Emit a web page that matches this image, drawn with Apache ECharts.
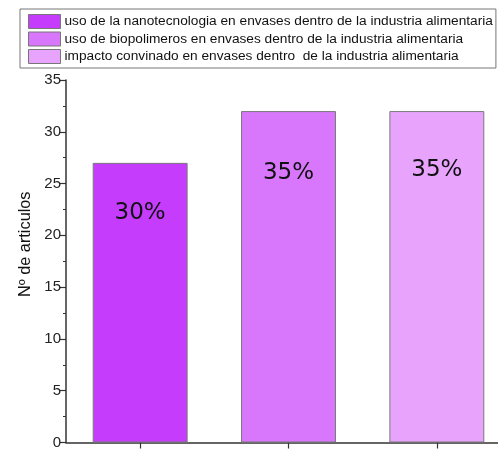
<!DOCTYPE html>
<html>
<head>
<meta charset="utf-8">
<script src="https://cdn.jsdelivr.net/npm/echarts@6/dist/echarts.min.js"></script>
<style>
  html, body { margin: 0; padding: 0; background: #fff; overflow: hidden; }
  /* the plot runs past the right edge of the window, so the canvas is a bit wider */
  #chart { width: 511px; height: 450px; }
</style>
</head>
<body>
<div id="chart"></div>
<script>
// Article counts per research topic, with the share each represents
const seriesNames = [
  'uso de la nanotecnologia en envases dentro de la industria alimentaria',
  'uso de biopolimeros en envases dentro de la industria alimentaria',
  'impacto convinado en envases dentro  de la industria alimentaria'
];
const categories = ['nanotecnologia', 'biopolimeros', 'impacto'];
const articleCounts = [27, 32, 32];
const percentLabels = ['30%', '35%', '35%'];
const yTicks = [0, 5, 10, 15, 20, 25, 30, 35];

const colors = ['#c63cfd', '#d877fc', '#e8a4fd'];
const labelDepth = [50, 62, 59];

const series = seriesNames.map((name, i) => ({
  name: name,
  type: 'bar',
  stack: 'total',
  barWidth: '64%',
  itemStyle: { color: colors[i], borderColor: '#7a7a7a', borderWidth: 1 },
  data: categories.map((c, j) => j === i ? {
    value: articleCounts[j],
    label: {
      show: true,
      formatter: percentLabels[j],
      position: ['50%', labelDepth[j]],
      align: 'center',
      verticalAlign: 'middle',
      fontFamily: 'DejaVu Sans',
      fontSize: 23,
      color: '#111'
    }
  } : '-')
}));

const chart = echarts.init(document.getElementById('chart'), null, { renderer: 'canvas' });
chart.setOption({
  animation: false,
  legend: {
    orient: 'vertical',
    left: 20,
    top: 9,
    padding: [5, 3, 4, 8],
    icon: 'rect',
    itemWidth: 32,
    itemHeight: 14,
    itemGap: 2.5,
    borderColor: '#777',
    borderWidth: 1,
    itemStyle: { borderColor: '#777', borderWidth: 1 },
    textStyle: { fontFamily: 'Liberation Sans', fontSize: 13.7, color: '#111', padding: [0, 0, 0, -1] },
    data: seriesNames
  },
  grid: { left: 66, right: 0, top: 80, bottom: 5, containLabel: false },
  xAxis: {
    type: 'category',
    data: categories,
    axisLine: { lineStyle: { color: '#333', width: 1.5 } },
    axisTick: { show: true, alignWithLabel: true, length: 6, lineStyle: { color: '#333', width: 1.2 } },
    axisLabel: { show: false }
  },
  yAxis: {
    type: 'value',
    min: yTicks[0],
    max: yTicks[yTicks.length - 1],
    interval: yTicks[1] - yTicks[0],
    name: 'Nº de articulos',
    nameLocation: 'middle',
    nameGap: 27,
    nameTextStyle: { fontFamily: 'Liberation Sans', fontSize: 16.3, color: '#111', padding: [0, 0, 0, 34] },
    axisLine: { show: true, lineStyle: { color: '#333', width: 1.5 } },
    axisTick: { show: true, length: 6, lineStyle: { color: '#333', width: 1.2 } },
    minorTick: { show: true, splitNumber: 2, length: 3, lineStyle: { color: '#333', width: 1 } },
    axisLabel: { fontFamily: 'Liberation Sans', fontSize: 15, color: '#222', margin: 5 },
    splitLine: { show: false }
  },
  series: series
});
</script>
</body>
</html>
